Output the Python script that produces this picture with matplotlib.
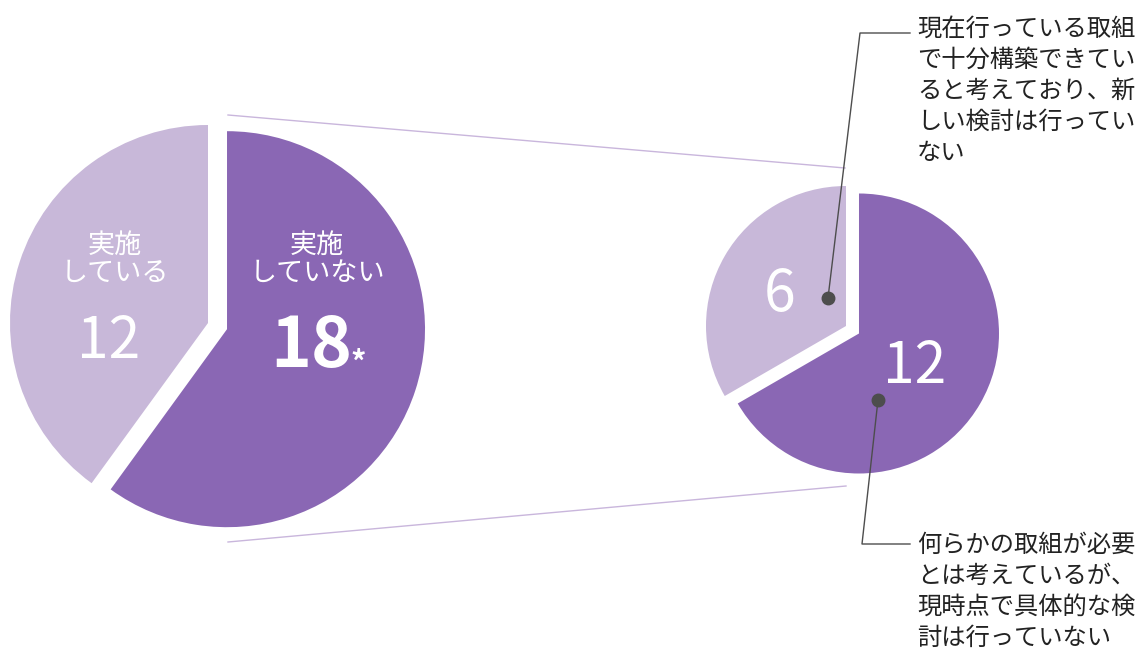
import matplotlib
matplotlib.use("Agg")
from matplotlib import pyplot as plt

plt.rcParams['font.family'] = ['Noto Sans CJK JP', 'DejaVu Sans']

# data
big_labels = ["実施\nしている", "実施\nしていない"]
big_values = [12, 18]
small_values = [6, 12]
small_notes = ["現在行っている取組\nで十分構築できてい\nると考えており、新\nしい検討は行ってい\nない",
               "何らかの取組が必要\nとは考えているが、\n現時点で具体的な検\n討は行っていない"]

light = "#c8b8d9"
dark = "#8a67b4"
W, H = 1142, 653

fig = plt.figure(figsize=(W / 100, H / 100), dpi=100)
ax = fig.add_axes([0, 0, 1, 1])

def Y(y):
    # image pixel row -> data y
    return H - y

# big pie
ax.pie(big_values, center=(208, Y(323)), radius=198, startangle=90,
       colors=[light, dark], explode=[0, 20], wedgeprops=dict(linewidth=0))
# small pie
ax.pie(small_values, center=(846, Y(326)), radius=140, startangle=90,
       colors=[light, dark], explode=[0, 15], wedgeprops=dict(linewidth=0))

# connecting lines
ax.plot([228, 845], [Y(115), Y(168)], color="#c9b6dc", lw=1)
ax.plot([228, 846], [Y(542), Y(486)], color="#c9b6dc", lw=1)

# big pie labels
ax.text(115, Y(259), big_labels[0], color="white", fontsize=19.5, ha="center",
        va="center", linespacing=1.05)
ax.text(317, Y(259), big_labels[1], color="white", fontsize=19.5, ha="center",
        va="center", linespacing=1.05)
ax.text(109, Y(342), str(big_values[0]), color="white", fontsize=41, ha="center",
        va="center")
ax.text(311, Y(347), str(big_values[1]), color="white", fontsize=50, ha="center",
        va="center", fontweight="bold")
ax.text(350, Y(364), "*", color="white", fontsize=22, ha="left", va="center",
        fontweight="bold")

# small pie labels
ax.text(780, Y(295), str(small_values[0]), color="white", fontsize=41, ha="center",
        va="center")
ax.text(915, Y(367), str(small_values[1]), color="white", fontsize=41, ha="center",
        va="center")

# leader lines + notes
gray = "#4d4d4d"
ax.plot([828, 860, 910], [Y(298), Y(33), Y(33)], color=gray, lw=1)
ax.plot([828], [Y(298)], "o", color=gray, ms=9)
ax.plot([878, 862, 910], [Y(400), Y(544), Y(544)], color=gray, lw=1)
ax.plot([878], [Y(400)], "o", color=gray, ms=9)

ax.text(917, Y(16), small_notes[0], fontsize=17.5, color="#222222", ha="left",
        va="top", linespacing=1.25)
ax.text(917, Y(532), small_notes[1], fontsize=17.5, color="#222222", ha="left",
        va="top", linespacing=1.25)

ax.set_xlim(0, W)
ax.set_ylim(0, H)
ax.set_aspect("equal")
ax.axis("off")

fig.savefig("out.png", dpi=100)
